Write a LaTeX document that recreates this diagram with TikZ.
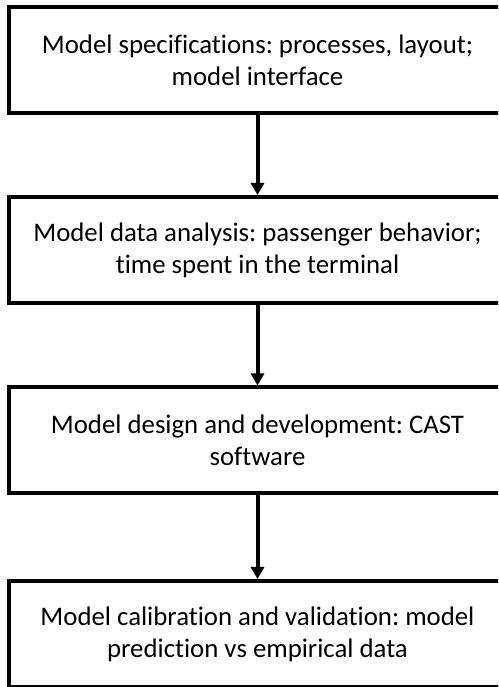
\documentclass[tikz,border=0pt]{standalone}
\usepackage{fontspec}
\setmainfont[Ligatures=CommonOff]{Carlito}
\frenchspacing
\usetikzlibrary{arrows.meta}
\tikzset{
  stagebox/.style={draw, line width=4pt, rectangle, minimum width=497pt, minimum height=106pt,
    align=center, font=\fontsize{26.8}{32}\selectfont, inner sep=0pt},
  flowarrow/.style={line width=4pt, -{Triangle[width=13pt,length=12pt]}}
}
\begin{document}
\begin{tikzpicture}[x=1pt,y=1pt]
      \useasboundingbox (0,0) rectangle (498,687);
      \clip (0,0) rectangle (498,687);

      \node[stagebox] (spec) at (257.5,627) {Model specifications: processes, layout;\\model interface};
      \node[stagebox] (data) at (257.5,437) {Model data analysis: passenger behavior;\\time spent in the terminal};
      \node[stagebox] (design) at (257.5,246.5) {Model design and development: CAST\\software};
      \node[stagebox] (calib) at (257.5,53) {Model calibration and validation: model\\prediction vs empirical data};

      \draw[flowarrow] (spec.south) -- (data.north);
      \draw[flowarrow] (data.south) -- (design.north);
      \draw[flowarrow] (design.south) -- (calib.north);
    \end{tikzpicture}
\end{document}
